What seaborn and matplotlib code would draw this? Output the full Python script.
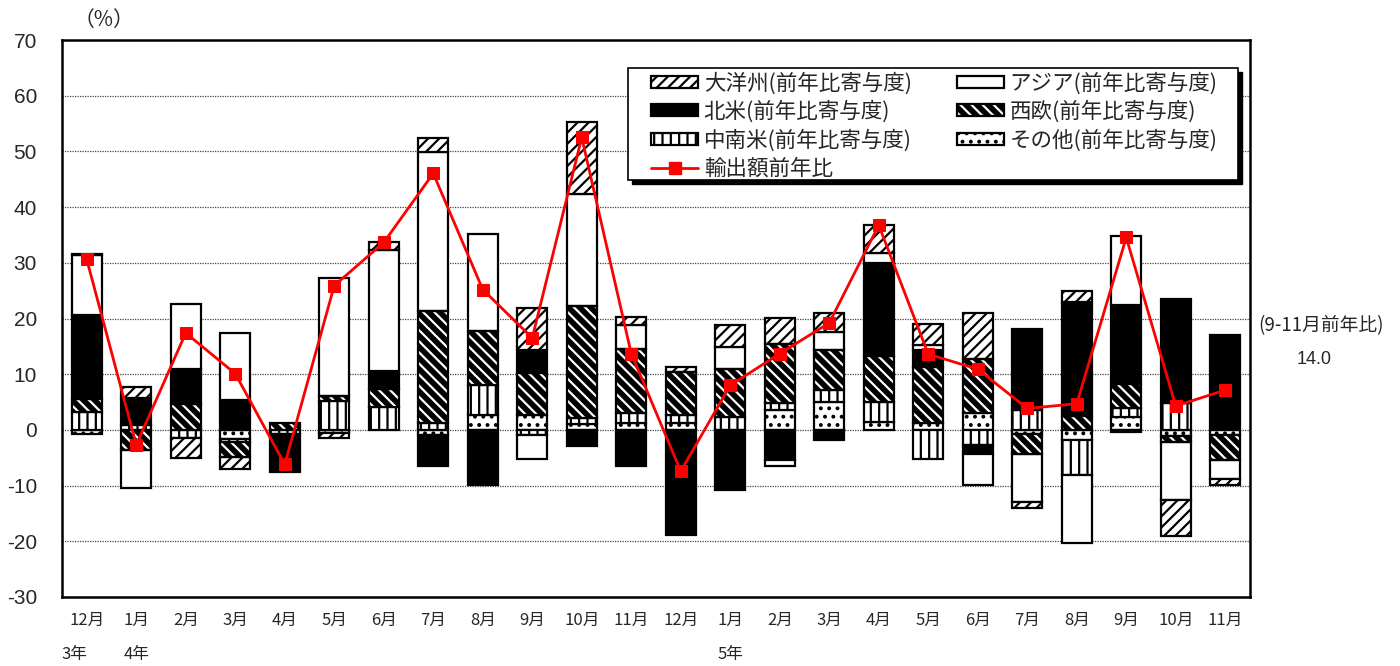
import numpy as np
import matplotlib
matplotlib.use("Agg")
import matplotlib.pyplot as plt
from matplotlib.patches import Patch, Rectangle
from matplotlib.lines import Line2D
from matplotlib.legend_handler import HandlerTuple
import matplotlib.transforms as mtransforms
import seaborn as sns

# ---- data (contribution to y/y change of exports, % points) ----
months = ["12月", "1月", "2月", "3月", "4月", "5月", "6月", "7月", "8月", "9月", "10月", "11月",
          "12月", "1月", "2月", "3月", "4月", "5月", "6月", "7月", "8月", "9月", "10月", "11月"]

other = [-0.8, 0.0, 0.0, -1.55, 0.0, -0.5, 0.0, -0.85, 2.75, 2.65, 1.0, 1.15,
         1.25, 0.0, 3.55, 5.05, 1.45, 1.3, 3.1, -0.65, -1.85, 2.35, -1.15, -0.95]
latam = [3.2, 0.8, -1.5, -0.6, -0.8, 5.15, 4.1, 1.25, 5.25, -0.95, 1.15, 1.8,
         1.4, 2.35, 1.3, 2.2, 3.6, -5.3, -2.75, 3.65, -6.3, 1.6, 4.85, 0.0]
weurope = [2.4, -3.6, 4.6, -2.7, 1.3, 0.9, 3.3, 20.05, 9.7, 7.65, 20.15, 11.5,
           7.75, 8.5, 10.65, 7.05, 8.25, 10.0, 9.7, -3.75, 2.45, 4.25, -1.0, -4.5]
namerica = [15.0, 4.9, 6.3, 5.45, -6.7, 0.0, 3.2, -5.6, -9.95, 4.0, -2.85, -6.45,
            -18.8, -10.85, -5.45, -1.85, 16.6, 3.0, -1.65, 14.45, 20.55, 14.2, 18.65, 17.0]
asia = [10.8, -6.8, 11.7, 12.0, 0.0, 21.25, 21.7, 28.6, 17.4, -4.35, 20.05, 4.35,
        0.0, 4.05, -1.0, 3.3, 1.8, 0.9, -5.55, -8.5, -12.1, 12.4, -10.45, -3.3]
oceania = [0.2, 2.0, -3.6, -2.25, 0.0, -1.0, 1.35, 2.5, 0.0, 7.5, 12.85, 1.4,
           0.9, 4.0, 4.6, 3.3, 5.05, 3.8, 8.1, -1.2, 1.9, -0.3, -6.45, -1.2]
export_yoy = [30.6, -2.7, 17.4, 10.1, -6.2, 25.9, 33.65, 46.05, 25.2, 16.5, 52.5, 13.7,
              -7.4, 8.0, 13.7, 19.2, 36.75, 13.6, 10.9, 3.85, 4.7, 34.55, 4.3, 7.15]

year_labels = [("3年", -0.24), ("4年", 1.0), ("5年", 13.0)]
side_title = "(9-11月前年比)"
side_value = "14.0"

# ---- style ----
sns.set_style("white")
plt.rcParams["font.family"] = ["Noto Sans CJK JP", "DejaVu Sans"]
plt.rcParams["hatch.linewidth"] = 1.6

W, H = 1400, 666
fig = plt.figure(figsize=(W / 100, H / 100), dpi=100)
AX_L, AX_R, AX_T, AX_B = 62, 1250, 40, 597
ax = fig.add_axes([AX_L / W, 1 - AX_B / H, (AX_R - AX_L) / W, (AX_B - AX_T) / H])


def ax_xy(px, py):
    """pixel position -> axes fraction"""
    return (px - AX_L) / (AX_R - AX_L), (AX_B - py) / (AX_B - AX_T)


x = np.arange(len(months))
width = 0.6
EDGE = 1.6

series = [
    ("その他(前年比寄与度)", other, dict(facecolor="white", edgecolor="black", hatch="..")),
    ("中南米(前年比寄与度)", latam, dict(facecolor="white", edgecolor="black", hatch="||")),
    ("西欧(前年比寄与度)", weurope, dict(facecolor="black", edgecolor="white", hatch="\\\\\\")),
    ("北米(前年比寄与度)", namerica, dict(facecolor="black", edgecolor="black", hatch=None)),
    ("アジア(前年比寄与度)", asia, dict(facecolor="white", edgecolor="black", hatch=None)),
    ("大洋州(前年比寄与度)", oceania, dict(facecolor="white", edgecolor="black", hatch="///")),
]

pos_base = np.zeros(len(months))
neg_base = np.zeros(len(months))
handles = {}
for name, vals, st in series:
    vals = np.asarray(vals, dtype=float)
    bottoms = np.where(vals >= 0, pos_base, neg_base)
    mask = vals != 0
    white_hatch = st["edgecolor"] == "white"
    ax.bar(x[mask], vals[mask], width, bottom=bottoms[mask],
           linewidth=0 if white_hatch else EDGE, zorder=2, **st)
    if white_hatch:
        ax.bar(x[mask], vals[mask], width, bottom=bottoms[mask], fill=False,
               edgecolor="black", linewidth=EDGE, zorder=2.1)
        handles[name] = (Patch(facecolor="black", edgecolor="white", hatch=st["hatch"], linewidth=0),
                         Patch(fill=False, edgecolor="black", linewidth=EDGE))
    else:
        handles[name] = Patch(linewidth=EDGE, **st)
    pos_base = pos_base + np.where(vals > 0, vals, 0)
    neg_base = neg_base + np.where(vals < 0, vals, 0)

sns.lineplot(x=x, y=export_yoy, ax=ax, color="#ff0000", linewidth=2, marker="s",
             markersize=8, markeredgecolor="#ff0000", zorder=5, legend=False)

# ---- axes ----
ax.set_xlim(-0.5, len(months) - 0.5)
ax.set_ylim(-30, 70)
ax.set_yticks(np.arange(-30, 71, 10))
ax.set_yticklabels([str(v) for v in range(-30, 71, 10)], family="Liberation Sans", fontsize=15)
ax.set_xticks(x)
ax.set_xticklabels(months, fontsize=12)
ax.tick_params(axis="both", length=0)
ax.tick_params(axis="y", pad=18)
ax.tick_params(axis="x", pad=11)
ax.yaxis.grid(True, linestyle=(0, (1, 1)), color="#444444", linewidth=0.9)
ax.xaxis.grid(False)
ax.set_axisbelow(True)
for sp in ax.spines.values():
    sp.set_color("black")
    sp.set_linewidth(1.8)

# ---- legend box with drop shadow ----
fx0, fy1 = ax_xy(628, 68)
fx1, fy0 = ax_xy(1238, 180)
shadow_tr = mtransforms.offset_copy(ax.transAxes, fig=fig, x=4, y=-4, units="dots")
ax.add_patch(Rectangle((fx0, fy0), fx1 - fx0, fy1 - fy0, transform=shadow_tr,
                       facecolor="black", edgecolor="black", clip_on=False, zorder=8))
ax.add_patch(Rectangle((fx0, fy0), fx1 - fx0, fy1 - fy0, transform=ax.transAxes,
                       facecolor="white", edgecolor="black", linewidth=1.2,
                       clip_on=False, zorder=9))

line_handle = Line2D([], [], color="#ff0000", linewidth=2, marker="s", markersize=8,
                     markeredgecolor="#ff0000")
order = ["大洋州(前年比寄与度)", "北米(前年比寄与度)", "中南米(前年比寄与度)", None,
         "アジア(前年比寄与度)", "西欧(前年比寄与度)", "その他(前年比寄与度)"]
leg_handles = [handles[n] if n else line_handle for n in order]
leg_labels = [n if n else "輸出額前年比" for n in order]
lx, ly = ax_xy(651, 72)
leg = ax.legend(leg_handles, leg_labels, loc="upper left", bbox_to_anchor=(lx, ly),
                borderaxespad=0, borderpad=0, ncol=2, fontsize=15.5, frameon=False,
                handlelength=2.2, handleheight=0.5, handletextpad=0.25, columnspacing=2.1,
                labelspacing=0.28,
                handler_map={tuple: HandlerTuple(ndivide=1, pad=0)})
leg.set_zorder(10)

# ---- extra labels ----
trans = mtransforms.blended_transform_factory(ax.transData, fig.transFigure)
for txt, xv in year_labels:
    ax.text(xv, 1 - 655 / H, txt, transform=trans, ha="center", va="center", fontsize=12)

fig.text(104 / W, 1 - 20 / H, "（%）", ha="center", va="center", fontsize=15)
fig.text(1321 / W, 1 - 326 / H, side_title, ha="center", va="center", fontsize=13.5)
fig.text(1314 / W, 1 - 360 / H, side_value, ha="center", va="center", fontsize=13,
         family="Liberation Sans")

fig.savefig("out.png", dpi=100)
